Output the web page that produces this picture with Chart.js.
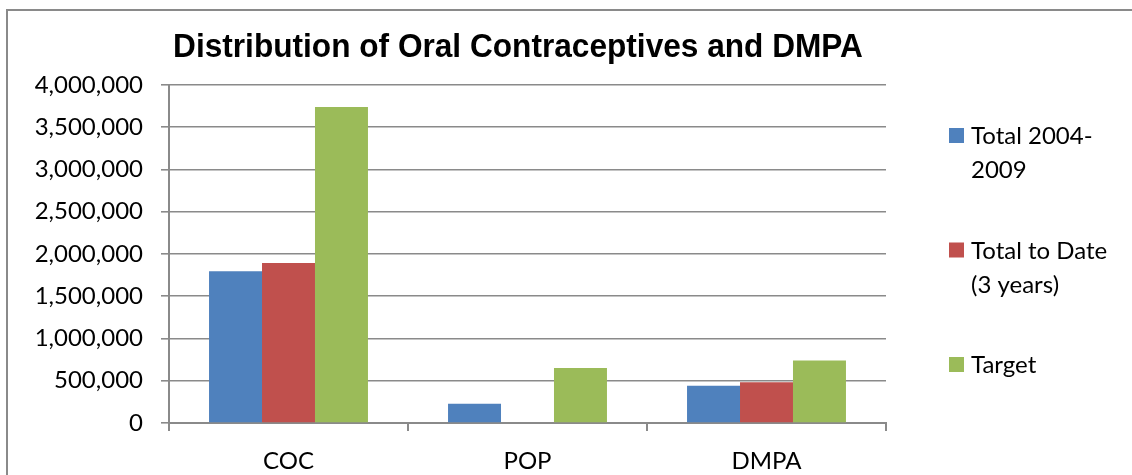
<!DOCTYPE html>
<html>
<head>
<meta charset="utf-8">
<script src="https://cdn.jsdelivr.net/npm/chart.js@4.4.1/dist/chart.umd.min.js"></script>
<style>
  html, body { margin: 0; padding: 0; background: #ffffff; }
  #wrap { width: 1132px; height: 475px; }
</style>
</head>
<body>
<div id="wrap"><canvas id="chart" width="1132" height="475"></canvas></div>
<script>
// Product categories along the x axis
const categories = ["COC", "POP", "DMPA"];

// Series names, split into the lines shown in the side legend
const seriesNames = [
  ["Total 2004-", "2009"],
  ["Total to Date", "(3 years)"],
  ["Target"]
];

// Units distributed per product
const total2004to2009 = [1795000, 228000, 441000];
const totalToDate3yrs = [1893000, null, 481000];
const targetUnits     = [3740000, 651000, 741000];

// Value axis tick marks
const yTicks = [0, 500000, 1000000, 1500000, 2000000, 2500000, 3000000, 3500000, 4000000];

const chartTitle = "Distribution of Oral Contraceptives and DMPA";

const seriesColors = ["#4F81BD", "#C0504D", "#9BBB59"];
const bodyFont = "Lato, 'Open Sans', sans-serif";
const axisGray = "#8a8a8a";

// Frame line on the left and top edges
const framePlugin = {
  id: "frame",
  beforeDraw(chart) {
    const ctx = chart.ctx;
    ctx.save();
    ctx.fillStyle = "#ffffff";
    ctx.fillRect(0, 0, chart.width, chart.height);
    ctx.strokeStyle = axisGray;
    ctx.lineWidth = 2;
    ctx.beginPath();
    ctx.moveTo(7, chart.height);
    ctx.lineTo(7, 10);
    ctx.lineTo(chart.width, 10);
    ctx.stroke();
    ctx.restore();
  }
};

// Bold, slightly condensed heading above the plot
const headingPlugin = {
  id: "heading",
  afterDraw(chart) {
    const ctx = chart.ctx;
    ctx.save();
    ctx.fillStyle = "#000000";
    ctx.font = "bold 34px 'Liberation Sans', Arial, sans-serif";
    ctx.textAlign = "center";
    ctx.textBaseline = "alphabetic";
    ctx.translate(518, 57);
    ctx.scale(0.93, 1);
    ctx.fillText(chartTitle, 0, 0);
    ctx.restore();
  }
};

// Legend to the right of the plot, with wrapped labels
const sideLegendPlugin = {
  id: "sideLegend",
  afterDraw(chart) {
    const ctx = chart.ctx;
    const x = chart.chartArea.right + 63;
    const centers = [135.5, 250, 364.5];
    ctx.save();
    ctx.font = "24px " + bodyFont;
    ctx.textAlign = "left";
    ctx.textBaseline = "middle";
    chart.data.datasets.forEach((ds, i) => {
      const cy = centers[i];
      ctx.fillStyle = ds.backgroundColor;
      ctx.fillRect(x, cy - 7.5, 15, 15);
      ctx.fillStyle = "#000000";
      ds.legendLines.forEach((line, j) => {
        ctx.fillText(line, x + 22, cy + 1 + j * 34);
      });
    });
    ctx.restore();
  }
};

const datasets = [total2004to2009, totalToDate3yrs, targetUnits].map((values, i) => ({
  label: seriesNames[i].join(" "),
  legendLines: seriesNames[i],
  data: values,
  backgroundColor: seriesColors[i],
  borderWidth: 0,
  categoryPercentage: 0.665,
  barPercentage: 1.0
}));

new Chart(document.getElementById("chart"), {
  type: "bar",
  data: { labels: categories, datasets: datasets },
  plugins: [framePlugin, headingPlugin, sideLegendPlugin],
  options: {
    responsive: false,
    animation: false,
    layout: { padding: { top: 85, right: 246, left: 0, bottom: 0 } },
    plugins: {
      legend: { display: false },
      title: { display: false },
      tooltip: { enabled: false }
    },
    scales: {
      x: {
        offset: true,
        afterFit(scale) { scale.height = 52; },
        grid: {
          offset: true,
          drawOnChartArea: false,
          drawTicks: true,
          tickLength: 8,
          color: axisGray,
          lineWidth: 2
        },
        border: { display: true, color: axisGray, width: 2 },
        ticks: {
          color: "#000000",
          font: { family: bodyFont, size: 24 },
          padding: 16,
          maxRotation: 0
        }
      },
      y: {
        min: 0,
        max: 4000000,
        afterFit(scale) { scale.width = 169; },
        afterBuildTicks(scale) { scale.ticks = yTicks.map(v => ({ value: v })); },
        grid: {
          drawTicks: true,
          tickLength: 8,
          color: axisGray,
          lineWidth: 1.6
        },
        border: { display: true, color: axisGray, width: 2 },
        ticks: {
          color: "#000000",
          font: { family: bodyFont, size: 24 },
          padding: 18,
          callback: (v) => Number(v).toLocaleString("en-US")
        }
      }
    }
  }
});
</script>
</body>
</html>
